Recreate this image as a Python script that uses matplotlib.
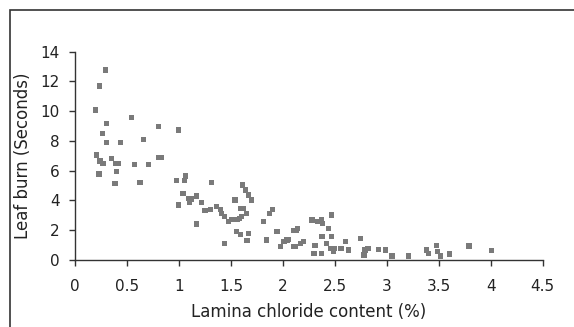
import matplotlib
matplotlib.use('Agg')
import matplotlib.pyplot as plt
from matplotlib.patches import Rectangle

# chloride (%) vs leaf burn (s)
chloride = [0.29, 0.234, 0.20, 0.305, 0.267, 0.305, 0.44, 0.546, 0.66, 0.80,
            0.995, 0.21, 0.24, 0.27, 0.23, 0.353, 0.39, 0.42, 0.40, 0.385,
            0.57, 0.706, 0.626, 0.80, 0.83, 0.98, 1.053, 1.06, 1.04, 0.995,
            1.09, 1.12, 1.17, 1.10, 1.22, 1.17, 1.317, 1.25, 1.30, 1.365,
            1.40, 1.413, 1.44, 1.435, 1.477, 1.51, 1.54, 1.56, 1.58, 1.59,
            1.62, 1.615, 1.64, 1.67, 1.70, 1.605, 1.65, 1.557, 1.59, 1.67,
            1.654, 1.814, 1.87, 1.90, 1.84, 1.943, 1.975, 2.01, 2.05, 2.10,
            2.14, 2.10, 2.135, 2.04, 2.12, 2.17, 2.20, 2.28, 2.33, 2.37,
            2.38, 2.47, 2.44, 2.376, 2.47, 2.31, 2.30, 2.37, 2.42, 2.46,
            2.50, 2.49, 2.56, 2.60, 2.63, 2.745, 2.79, 2.78, 2.82, 2.92,
            2.99, 3.05, 3.21, 3.38, 3.40, 3.48, 3.49, 3.52, 3.60, 3.79,
            4.01]
leaf_burn = [12.77, 11.7, 10.08, 9.19, 8.5, 7.88, 7.88, 9.59, 8.11, 8.96,
             8.74, 7.06, 6.65, 6.5, 5.78, 6.83, 6.5, 6.5, 5.94, 5.15,
             6.43, 6.43, 5.2, 6.9, 6.9, 5.37, 5.37, 5.64, 4.48, 3.7,
             4.15, 4.1, 4.3, 3.9, 3.85, 2.42, 5.2, 3.31, 3.4, 3.58,
             3.4, 3.14, 2.9, 1.12, 2.57, 2.7, 4.03, 2.7, 2.8, 3.47,
             3.47, 5.04, 4.7, 4.37, 4.03, 2.91, 3.14, 1.9, 1.74, 1.8,
             1.3, 2.57, 3.14, 3.4, 1.34, 1.9, 0.9, 1.23, 1.39, 2.0,
             2.1, 0.92, 2.0, 1.34, 0.9, 1.12, 1.23, 2.69, 2.57, 2.69,
             2.46, 3.02, 2.13, 1.57, 1.57, 1.0, 0.45, 0.45, 1.12, 0.79,
             0.79, 0.56, 0.79, 1.23, 0.67, 1.46, 0.67, 0.34, 0.79, 0.72,
             0.67, 0.27, 0.27, 0.67, 0.45, 1.0, 0.56, 0.27, 0.4, 0.94,
             0.63]

x_ticks = [0, 0.5, 1, 1.5, 2, 2.5, 3, 3.5, 4, 4.5]
x_ticklabels = ['0', '0.5', '1', '1.5', '2', '2.5', '3', '3.5', '4', '4.5']
y_ticks = [0, 2, 4, 6, 8, 10, 12, 14]

fig = plt.figure(figsize=(5.74, 3.27), dpi=100)
fig.patches.append(Rectangle((10 / 574, -0.1), 1.0, 1.1 - 10 / 327,
                             transform=fig.transFigure, fill=False,
                             edgecolor='#333333', linewidth=1.2))

ax = fig.add_axes([75 / 574, 67 / 327, 467.7 / 574, 208.3 / 327])
ax.scatter(chloride, leaf_burn, marker='s', s=14, color='#7a7a7a',
           edgecolors='none', zorder=3)

ax.set_xlim(0, 4.5)
ax.set_ylim(0, 14)
ax.set_xticks(x_ticks)
ax.set_xticklabels(x_ticklabels)
ax.set_yticks(y_ticks)
for side in ['top', 'right']:
    ax.spines[side].set_visible(False)
for side in ['left', 'bottom']:
    ax.spines[side].set_color('#333333')
    ax.spines[side].set_linewidth(1.0)
ax.tick_params(direction='out', length=4, width=1, color='#333333',
               labelsize=11, labelcolor='#222222', pad=7)
ax.tick_params(axis='x', pad=10)

ax.set_xlabel('Lamina chloride content (%)', fontsize=12, color='#222222', labelpad=6)
ax.set_ylabel('Leaf burn (Seconds)', fontsize=12, color='#222222', labelpad=6)

fig.savefig('out.png', dpi=100)
